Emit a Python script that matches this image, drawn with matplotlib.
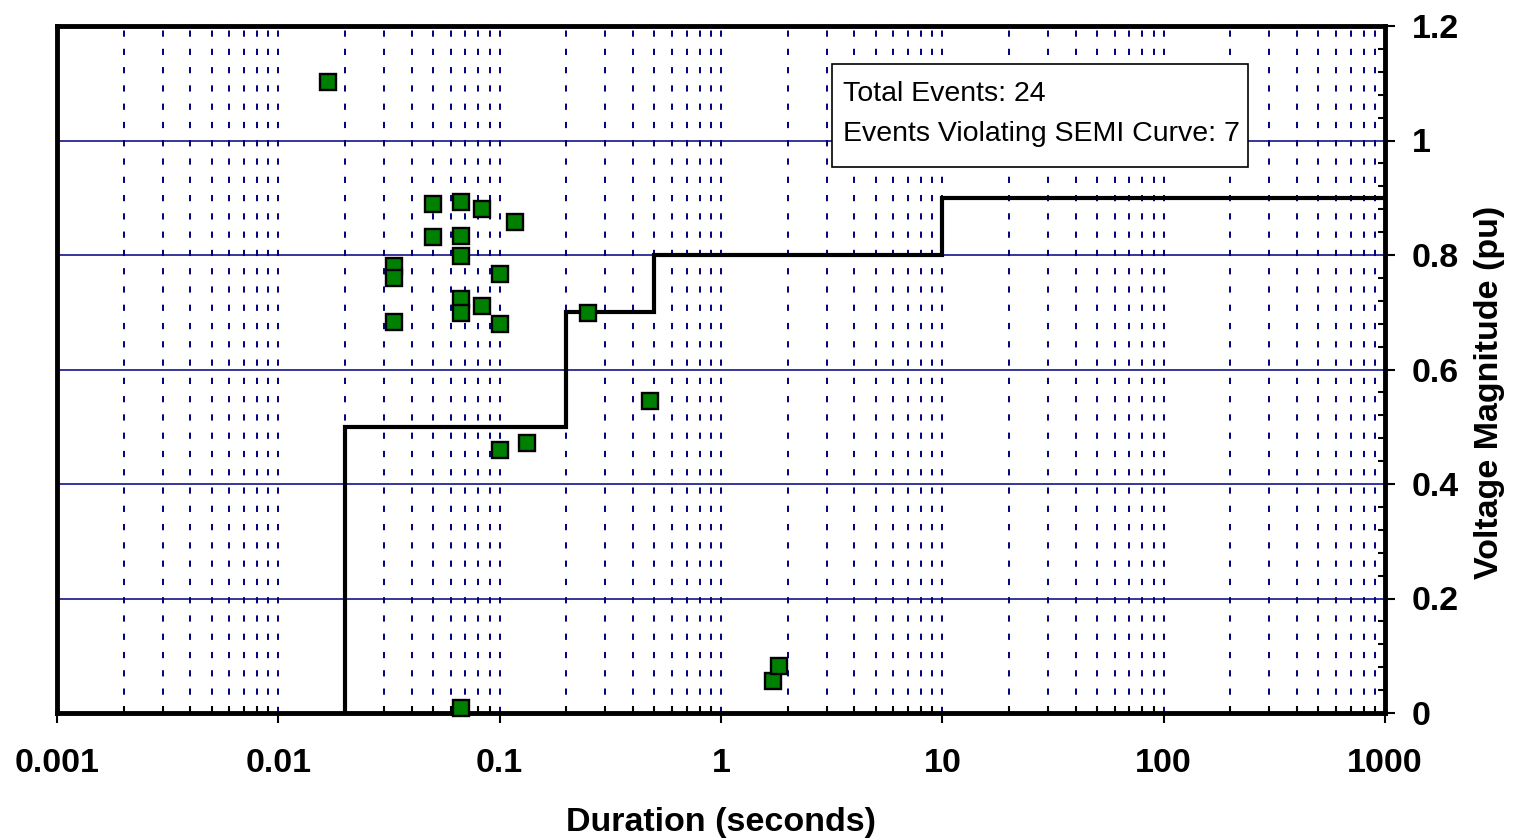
import matplotlib.pyplot as plt
import matplotlib.ticker as mticker

plt.rcParams['font.family'] = ['Liberation Sans', 'DejaVu Sans']

# event durations (s) and voltage magnitudes (pu)
durations = [0.0167, 0.0333, 0.0333, 0.0333, 0.05, 0.05,
             0.0667, 0.0667, 0.0667, 0.0667, 0.0667, 0.0667,
             0.0833, 0.0833, 0.1, 0.1, 0.1, 0.1167, 0.1333,
             0.25, 0.48, 1.72, 1.83]
magnitudes = [1.102, 0.781, 0.760, 0.683, 0.889, 0.831,
              0.893, 0.833, 0.798, 0.723, 0.699, 0.009,
              0.880, 0.711, 0.767, 0.679, 0.459, 0.858, 0.472,
              0.699, 0.545, 0.056, 0.082]

# SEMI F47 curve
semi_x = [0.02, 0.02, 0.2, 0.2, 0.5, 0.5, 10, 10, 1000]
semi_y = [0.0, 0.5, 0.5, 0.7, 0.7, 0.8, 0.8, 0.9, 0.9]

x_ticks = [0.001, 0.01, 0.1, 1, 10, 100, 1000]
x_labels = ['0.001', '0.01', '0.1', '1', '10', '100', '1000']
y_ticks = [0, 0.2, 0.4, 0.6, 0.8, 1.0, 1.2]
y_labels = ['0', '0.2', '0.4', '0.6', '0.8', '1', '1.2']

fig = plt.figure(figsize=(15.18, 8.4), dpi=100)
ax = fig.add_axes([57 / 1518, 1 - 713 / 840, 1328 / 1518, 687 / 840])

ax.set_xscale('log')
ax.set_xlim(0.001, 1000)
ax.set_ylim(0, 1.2)

# grid
ax.xaxis.set_minor_locator(mticker.LogLocator(base=10, subs=range(2, 10), numticks=20))
ax.xaxis.set_minor_formatter(mticker.NullFormatter())
ax.yaxis.set_minor_locator(mticker.MultipleLocator(0.04))
ax.grid(True, which='both', axis='x', color='#000080', linewidth=1.4,
        linestyle=(0, (3.2, 6.2)))
ax.grid(True, which='major', axis='y', color='#000080', linewidth=1.1, linestyle='-')
ax.set_axisbelow(True)

ax.plot(semi_x, semi_y, color='black', linewidth=3, solid_joinstyle='miter', zorder=3)
ax.plot(durations, magnitudes, linestyle='none', marker='s', markersize=12,
        markerfacecolor='#008000', markeredgecolor='black', markeredgewidth=1.7,
        zorder=4, clip_on=False)

for s in ax.spines.values():
    s.set_linewidth(3.5)
    s.set_color('black')

ax.yaxis.tick_right()
ax.yaxis.set_label_position('right')
ax.set_xticks(x_ticks)
ax.set_xticklabels(x_labels)
ax.set_yticks(y_ticks)
ax.set_yticklabels(y_labels)
ax.tick_params(axis='both', which='major', direction='out', length=7, width=1.5,
               labelsize=24.5, color='black')
ax.tick_params(axis='x', which='major', pad=18)
ax.tick_params(axis='y', which='major', pad=12)
ax.tick_params(axis='both', which='minor', direction='in', length=5, width=1.5)
for lab in ax.get_xticklabels() + ax.get_yticklabels():
    lab.set_fontweight('bold')

ax.set_xlabel('Duration (seconds)', fontsize=24.5, fontweight='bold', labelpad=20)
ax.set_ylabel('Voltage Magnitude (pu)', fontsize=24.5, fontweight='bold', labelpad=11)
ax.yaxis.label.set_y(0.466)

box = plt.Rectangle((832 / 1518, 1 - 167 / 840), 416 / 1518, 103 / 840,
                    transform=fig.transFigure, facecolor='white', edgecolor='black',
                    linewidth=1.2, zorder=5)
fig.patches.append(box)
fig.text(843 / 1518, 1 - 94 / 840, 'Total Events: 24',
         fontsize=20.5, va='center', ha='left', zorder=6)
fig.text(843 / 1518, 1 - 134 / 840, 'Events Violating SEMI Curve: 7',
         fontsize=20.5, va='center', ha='left', zorder=6)

fig.savefig('out.png', dpi=100)
